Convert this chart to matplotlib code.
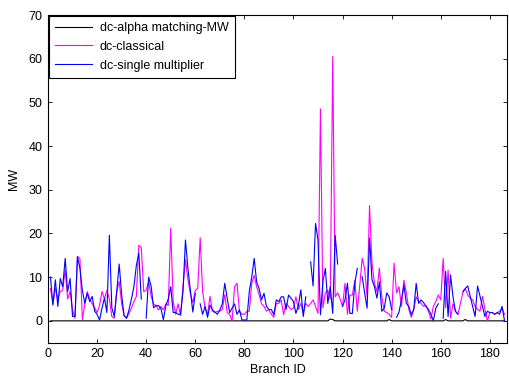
import numpy as np
import matplotlib
matplotlib.use("Agg")
import matplotlib.pyplot as plt

plt.rcParams['font.family'] = ['Liberation Sans', 'DejaVu Sans']

nan = np.nan
branch_id = list(range(1, 187))

classical = [
    7.4, 4, 7.4, 5, 6.7, 7, 11.6, 5, 6.7, 2.5,
    0.6, 14.7, 14.3, 0.3, 3.9, 6.7, 5, 3.9, 3, 1.9,
    3.5, 6.7, 5, 7, 5, 1, 0.6, 6.7, 9, 3.9,
    1.2, 0.6, 1.7, 2.9, 4.4, 5.6, 17.3, 16.8, 6.7, 7,
    9, 5.6, 3.9, 3.5, 2.5, 3.3, 2.5, 3.9, 3.5, 21.2,
    4.4, 1.5, 3.9, 1.2, 7.8, 14, 9.5, 6.2, 4.2, 7,
    7.4, 19, 6.7, 2.9, 1.5, 5.6, 2.2, 1.9, 2.2, 2.2,
    2.6, 6, 1.9, 1.5, 0, 7.8, 8.6, 2.2, 1.5, 1.5,
    2.2, 2.2, 8.6, 10.4, 7.8, 6, 3.9, 3.3, 2.2, 2.6,
    1.5, 0.8, 4, 4, 4.8, 1.4, 4, 3.3, 2.6, 2.9,
    5.5, 2.6, 4, 1.7, 4, 3.3, 4, 4.8, 3.3, 1.7,
    48.5, 3, 6.4, 7, 5, 60.5, 5.5, 6.4, 5, 3.3,
    8.6, 1.5, 5.9, 5.9, 9.3, 2.2, 8, 14.3, 12, 5.5,
    26.4, 13.2, 8.6, 6.7, 12.1, 5.5, 2.2, 1.9, 1.5, 0.8,
    13.2, 6.4, 7.8, 3.3, 9.3, 6.4, 2.6, 0.8, 2.6, 5.5,
    4.4, 4, 3.3, 3.5, 2.2, 0.4, 3.3, 4.4, 5.9, 4.8,
    14.3, 3, 11.6, 0.6, 3.9, 2.2, 1.5, 3.9, 6.4, 7.4,
    5.9, 5.2, 4.8, 3.3, 2.6, 2.2, 5.6, 2.6, 0, 1.9,
    1.9, 1.5, 1.9, 2.2, 2.9, 1.5,
]

single_mult = [
    10, 3.6, 9.4, 3.3, 9.7, 7.8, 14.3, 6.7, 9.7, 1.0,
    1.0, 14.7, 12, 7, 4, 6.3, 4.4, 5.6, 2.2, 1.5,
    0.2, 2.9, 5.2, 1.9, 19.6, 3, 1, 6.7, 13, 6,
    1.2, 0.6, 2.5, 5, 7.8, 12.7, 15.5, 5, nan, 0.6,
    10, 8, 3, 3.5, 3.5, 2.8, 0.3, 3.5, 5, 7.8,
    1.9, 1.9, 1.5, 1.5, 6.7, 18.5, 12, 7, 2, 6.3,
    nan, 3.9, 1.5, 3.3, 0.8, 3.6, 2.5, 2.0, 1.5, 2.5,
    3.9, 8.6, 5.2, 1.9, 2.9, 3.9, 1.5, 2.5, 0.2, 0.2,
    0.2, 6.7, 10, 14.3, 8.9, 7.4, 4.8, 6.3, 3.3, 2.6,
    2.6, 1.4, 4.8, 4.4, 5.5, 5.5, 2.6, 5.9, 5.2, 4.4,
    1.7, 3.5, 7.1, 1.0, 5.5, nan, 13.5, 8, 22.3, 18.5,
    1.4, 9, 12, 4, 7.8, 1.7, 19.6, 13, nan, 3.3,
    4.8, 8.6, 1.7, 1.7, 8.6, 12, nan, 10.1, 6.4, 2.9,
    18.9, 9.4, 7.8, 5.2, 8.9, 2.2, 2.9, 6.4, 5.5, 2.6,
    nan, 0.8, 2, 4.8, 8.2, 4, 3.3, 1.4, 2.6, 8.6,
    4, 4.8, 4.2, 3.3, 2.6, 1.5, 0, 2.9, 3.9, nan,
    0.6, 11.3, 1, 10.5, 5.5, 2.2, 1.5, nan, 6.7, 7.4,
    8, 5.6, 3.3, 1, 8, 5.6, 3.3, 1, 2.2, 1.9,
    1.9, 1.5, 1.9, 1.5, 3.3, 0,
]

alpha_matching = [0.0] * 186
for i, v in [(115, 0.4), (116, 0.3), (139, 0.3), (162, 0.3), (170, 0.3)]:
    alpha_matching[i - 1] = v

fig = plt.figure(figsize=(5.09, 3.77), dpi=100)
ax = fig.add_axes([48 / 509, 34.3 / 377, 459 / 509, 327.7 / 377])

ax.plot(branch_id, alpha_matching, color='black', lw=0.8, label='dc-alpha matching-MW')
ax.plot(branch_id, classical, color='#ff00ff', lw=0.8, label='dc-classical')
ax.plot(branch_id, single_mult, color='#0000ff', lw=0.8, label='dc-single multiplier')

ax.set_xlim(0, 187)
ax.set_ylim(-5, 70)
ax.set_xticks(range(0, 181, 20))
ax.set_yticks(range(0, 71, 10))
ax.tick_params(direction='in', top=True, right=True, labelsize=9, length=3, width=0.6, pad=4)
for s in ax.spines.values():
    s.set_linewidth(0.8)
ax.set_xlabel('Branch ID', fontsize=9, labelpad=3)
ax.set_ylabel('MW', fontsize=9, labelpad=6)

leg = ax.legend(loc='upper left', fontsize=9, frameon=True, fancybox=False,
                edgecolor='black', framealpha=1, borderaxespad=0.05,
                handlelength=3.0, handletextpad=0.6, labelspacing=0.55,
                borderpad=0.5)
leg.get_frame().set_linewidth(0.8)

fig.savefig('out.png', dpi=100)
